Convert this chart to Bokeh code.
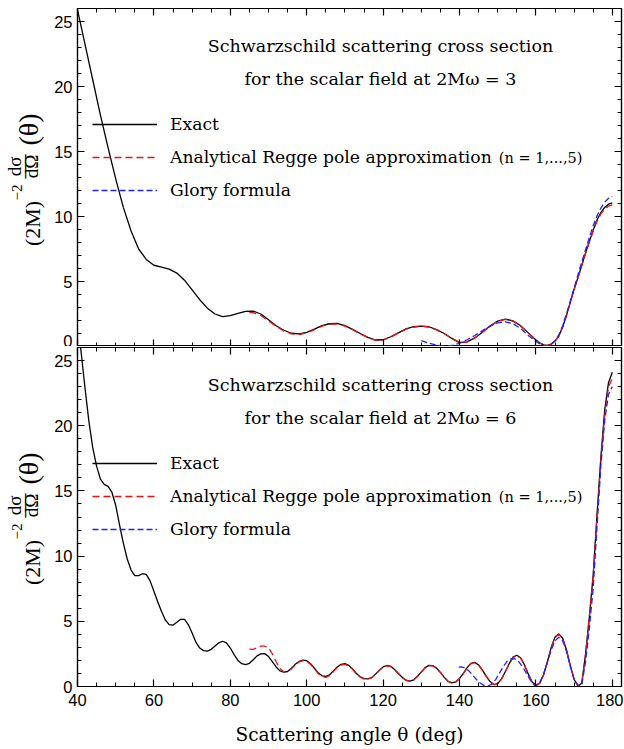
import numpy as np
from bokeh.plotting import figure
from bokeh.models import (Range1d, LinearAxis, Label, Legend, LegendItem,
                          FixedTicker, CustomJSTickFormatter)
from bokeh.layouts import column, row
from bokeh.embed import file_html
from bokeh.resources import INLINE

# ---------------- data ----------------
# Panel 1: 2M omega = 3
theta_exact_3 = [40, 42, 44, 46, 48, 50, 52, 54, 56, 58, 60, 62, 64, 66, 68, 70,
                 72, 74, 76, 78, 80, 82, 84, 86, 88, 90, 92, 94, 96, 98, 100,
                 102, 104, 106, 108, 110, 112, 114, 116, 118, 120, 122, 124, 126,
                 128, 130, 132, 134, 136, 138, 140, 142, 144, 146, 148, 150, 152,
                 154, 156, 158, 160, 161, 162, 163, 164, 165, 166, 167, 168, 169,
                 170, 171, 172, 173, 174, 175, 176, 177, 178, 179, 180]
sigma_exact_3 = [25.9, 23.2, 20.5, 17.8, 15.3, 12.9, 10.7, 8.9, 7.5, 6.7, 6.25, 6.1,
                 5.95, 5.65, 5.1, 4.35, 3.6, 2.95, 2.5, 2.3, 2.38, 2.55, 2.7, 2.72,
                 2.5, 2.05, 1.6, 1.25, 1.02, 0.97, 1.08, 1.33, 1.6, 1.75, 1.77, 1.6,
                 1.32, 1.0, 0.7, 0.5, 0.52, 0.75, 1.05, 1.35, 1.52, 1.57, 1.52, 1.3,
                 1.0, 0.62, 0.3, 0.36, 0.66, 1.1, 1.57, 1.95, 2.1, 1.97, 1.6, 1.05,
                 0.5, 0.28, 0.12, 0.08, 0.18, 0.42, 0.8, 1.5, 2.4, 3.4, 4.4, 5.3,
                 6.25, 7.2, 8.1, 8.95, 9.75, 10.3, 10.7, 10.95, 11.05]

theta_regge_3 = [85, 86, 88, 90, 92, 94, 96, 98, 100, 102, 104, 106, 108, 110, 112,
                 114, 116, 118, 120, 122, 124, 126, 128, 130, 132, 134, 136, 138,
                 140, 142, 144, 146, 148, 150, 152, 154, 156, 158, 160, 161, 162,
                 163, 164, 165, 166, 167, 168, 169, 170, 171, 172, 173, 174, 175,
                 176, 177, 178, 179, 180]
sigma_regge_3 = [2.6, 2.6, 2.38, 1.97, 1.55, 1.2, 0.97, 0.92, 1.04, 1.3, 1.56, 1.72,
                 1.73, 1.57, 1.3, 0.98, 0.68, 0.48, 0.5, 0.73, 1.03, 1.33, 1.5, 1.55,
                 1.5, 1.28, 0.98, 0.62, 0.3, 0.36, 0.66, 1.12, 1.58, 1.95, 2.08,
                 1.95, 1.58, 1.03, 0.5, 0.27, 0.11, 0.07, 0.17, 0.41, 0.78, 1.48,
                 2.38, 3.38, 4.38, 5.28, 6.22, 7.15, 8.05, 8.88, 9.65, 10.2, 10.55,
                 10.8, 10.9]

theta_glory_3 = [130, 132, 134, 136, 138, 140, 142, 144, 146, 148, 150, 152, 154,
                 156, 158, 160, 161, 162, 163, 164, 165, 166, 167, 168, 169, 170,
                 171, 172, 173, 174, 175, 176, 177, 178, 179, 180]
sigma_glory_3 = [0.46, 0.25, 0.1, 0.03, 0.08, 0.25, 0.52, 0.85, 1.22, 1.57, 1.82,
                 1.9, 1.75, 1.38, 0.85, 0.38, 0.2, 0.08, 0.05, 0.18, 0.45, 0.9, 1.6,
                 2.5, 3.5, 4.5, 5.5, 6.5, 7.45, 8.4, 9.3, 10.05, 10.65, 11.1, 11.4,
                 11.55]

# Panel 2: 2M omega = 6
theta_exact_6 = list(range(40, 181))
sigma_exact_6 = [28.1, 25.5, 22.8, 20.3, 18.3, 16.9, 15.9, 15.5, 15.35, 14.9,
                 13.9, 12.4, 11.0, 9.8, 8.95, 8.5, 8.5, 8.65, 8.6, 8.1,
                 7.3, 6.5, 5.75, 5.1, 4.75, 4.7, 4.92, 5.15, 5.15, 4.75,
                 4.1, 3.4, 2.95, 2.75, 2.72, 2.85, 3.1, 3.35, 3.47, 3.35,
                 2.95, 2.45, 2.0, 1.75, 1.68, 1.78, 2.05, 2.35, 2.5, 2.52,
                 2.3, 1.9, 1.5, 1.2, 1.1, 1.15, 1.4, 1.7, 1.92, 2.02,
                 1.98, 1.75, 1.4, 1.05, 0.82, 0.78, 0.9, 1.2, 1.5, 1.7,
                 1.75, 1.62, 1.35, 1.0, 0.75, 0.6, 0.59, 0.68, 0.95, 1.25,
                 1.5, 1.61, 1.55, 1.3, 1.0, 0.7, 0.48, 0.41, 0.5, 0.78,
                 1.12, 1.45, 1.62, 1.6, 1.4, 1.08, 0.7, 0.4, 0.28, 0.35,
                 0.62, 1.0, 1.45, 1.78, 1.85, 1.65, 1.25, 0.78, 0.38, 0.15,
                 0.22, 0.58, 1.15, 1.75, 2.25, 2.4, 2.2, 1.65, 0.95, 0.35,
                 0.1, 0.25, 0.9, 1.9, 3.0, 3.8, 4.04, 3.7, 2.8, 1.6,
                 0.55, 0.05, 0.25, 2.5, 5.4, 8.6, 13.2, 17.6, 21.2, 23.3,
                 24.1]

theta_regge_6 = list(range(85, 181))
sigma_regge_6 = [2.86, 2.84, 2.98, 3.1, 3.1, 2.98, 2.5, 1.9, 1.38, 1.12,
                 1.12, 1.35, 1.65, 1.88, 1.98, 1.92, 1.7, 1.35, 1.0, 0.76,
                 0.7, 0.84, 1.15, 1.45, 1.65, 1.7, 1.58, 1.32, 0.98, 0.72,
                 0.58, 0.57, 0.67, 0.93, 1.23, 1.48, 1.59, 1.53, 1.28, 0.98,
                 0.69, 0.47, 0.4, 0.49, 0.77, 1.1, 1.43, 1.6, 1.58, 1.38,
                 1.06, 0.69, 0.39, 0.27, 0.34, 0.61, 0.99, 1.43, 1.76, 1.83,
                 1.63, 1.24, 0.77, 0.37, 0.14, 0.21, 0.57, 1.13, 1.72, 2.22,
                 2.37, 2.18, 1.63, 0.94, 0.34, 0.09, 0.24, 0.88, 1.87, 2.96,
                 3.76, 4.0, 3.67, 2.78, 1.58, 0.54, 0.05, 0.24, 2.45, 5.3,
                 8.5, 13.0, 17.3, 20.8, 23.0, 23.6]

theta_glory_6 = [139.8, 140.5, 141.5, 142.5, 143.5, 144.5, 145.5, 146.5, 147.4,
                 148.5, 149.5, 150.5, 151.5, 152.5, 153.5, 154.4, 155.5, 156.5,
                 157.5, 158.5, 159.5, 160, 161, 162, 163, 164, 165, 166, 167, 168,
                 169, 170, 171, 171.6, 172, 173, 174, 175, 176, 177, 178, 179, 180]
sigma_glory_6 = [1.48, 1.5, 1.42, 1.18, 0.85, 0.52, 0.25, 0.07, 0.02, 0.2, 0.55,
                 1.05, 1.55, 1.95, 2.12, 2.14, 1.9, 1.5, 1.02, 0.5, 0.12, 0.02, 0.3,
                 0.95, 1.85, 2.8, 3.5, 3.78, 3.5, 2.7, 1.55, 0.55, 0.08, 0.0, 0.12,
                 1.9, 4.5, 7.6, 12.3, 16.9, 20.4, 22.4, 23.0]

x_major = [40, 60, 80, 100, 120, 140, 160, 180]
y_major = [0, 5, 10, 15, 20, 25]
legend_labels = ["Exact", "Analytical Regge pole approximation", "Glory formula"]
omega_values = ["3", "6"]

SERIF = "DejaVu Serif"
MATH = "Liberation Serif"
SANS = "Liberation Sans"
BLANK = CustomJSTickFormatter(code="return ''")
LAB_W = 45     # width of the strip that carries the y-axis titles


def style_axis(ax, labels):
    ax.major_tick_in = 7
    ax.major_tick_out = 0
    ax.minor_tick_in = 4
    ax.minor_tick_out = 0
    ax.axis_line_color = "black"
    ax.axis_line_width = 1.2
    ax.major_tick_line_color = "black"
    ax.minor_tick_line_color = "black"
    ax.major_tick_line_width = 1.2
    ax.minor_tick_line_width = 1
    if labels:
        ax.major_label_text_font = SANS
        ax.major_label_text_font_size = "16.5px"
        ax.major_label_text_color = "black"
    else:
        ax.formatter = BLANK
        ax.major_label_text_font_size = "1px"
        ax.major_label_standoff = 0


def make_panel(th_e, s_e, th_r, s_r, th_g, s_g, omega, bottom):
    xticker = FixedTicker(ticks=x_major, minor_ticks=list(range(40, 185, 5)))
    yticker = FixedTicker(ticks=y_major, minor_ticks=list(range(0, 27)))
    fh = 339 if bottom else 338
    p = figure(frame_width=544, frame_height=fh,
               x_range=Range1d(40, 182.4), y_range=Range1d(0, 26),
               output_backend="svg", toolbar_location=None,
               min_border_left=77 - LAB_W, min_border_right=2,
               min_border_top=1 if bottom else 8, min_border_bottom=0)
    p.xgrid.visible = False
    p.ygrid.visible = False
    p.outline_line_color = "black"
    p.outline_line_width = 1.2
    p.background_fill_color = "white"
    p.border_fill_color = "white"

    p.xaxis.ticker = xticker
    p.yaxis.ticker = yticker
    style_axis(p.xaxis[0], bottom)
    style_axis(p.yaxis[0], True)
    p.yaxis.major_label_standoff = 5
    if bottom:
        p.xaxis.major_label_standoff = 7
        p.xaxis.axis_label = "Scattering angle θ (deg)"
        p.xaxis.axis_label_text_font = SERIF
        p.xaxis.axis_label_text_font_style = "normal"
        p.xaxis.axis_label_text_font_size = "18.5px"
        p.xaxis.axis_label_text_color = "black"
        p.xaxis.axis_label_standoff = 15

    ax_top = LinearAxis(ticker=xticker)
    style_axis(ax_top, False)
    p.add_layout(ax_top, "above")
    ax_right = LinearAxis(ticker=yticker)
    style_axis(ax_right, False)
    p.add_layout(ax_right, "right")

    r_e = p.line(th_e, s_e, line_color="black", line_width=1.3)
    r_r = p.line(th_r, s_r, line_color="#ee1111", line_width=1.3, line_dash="7 4")
    r_g = p.line(th_g, s_g, line_color="#2222ff", line_width=1.3, line_dash="6 3")

    legend = Legend(items=[LegendItem(label=legend_labels[0], renderers=[r_e]),
                           LegendItem(label=legend_labels[1], renderers=[r_r]),
                           LegendItem(label=legend_labels[2], renderers=[r_g])],
                    location=(15, fh - 192), orientation="vertical",
                    glyph_width=65, glyph_height=20, label_height=20,
                    label_standoff=13, spacing=13, padding=0, margin=0,
                    background_fill_alpha=0, border_line_alpha=0,
                    label_text_font=SERIF, label_text_font_size="17.2px",
                    label_text_color="black")
    p.add_layout(legend, "center")

    p.add_layout(Label(x=119.3, y=23.1, text="Schwarzschild scattering cross section",
                       text_align="center", text_baseline="middle",
                       text_font=SERIF, text_font_size="17.5px", text_color="black"))
    p.add_layout(Label(x=119.3, y=20.6, text="for the scalar field at 2Mω = " + omega,
                       text_align="center", text_baseline="middle",
                       text_font=SERIF, text_font_size="17.5px", text_color="black"))
    p.add_layout(Label(x=150.3, y=14.5, text="(n = 1,...,5)",
                       text_align="left", text_baseline="middle",
                       text_font=SERIF, text_font_size="14.5px", text_color="black"))
    return p


top = make_panel(theta_exact_3, sigma_exact_3, theta_regge_3, sigma_regge_3,
                 theta_glory_3, sigma_glory_3, omega_values[0], False)
bot = make_panel(theta_exact_6, sigma_exact_6, theta_regge_6, sigma_regge_6,
                 theta_glory_6, sigma_glory_6, omega_values[1], True)

# strip on the left carrying the two y-axis titles: (2M)^-2 dσ/dΩ (θ)
LAB_H = 700
lab = figure(width=LAB_W, height=LAB_H, x_range=Range1d(0, LAB_W),
             y_range=Range1d(LAB_H, 0), output_backend="svg",
             toolbar_location=None, x_axis_location=None, y_axis_location=None,
             min_border=0)
lab.grid.visible = False
lab.outline_line_color = None
lab.background_fill_color = "white"
lab.border_fill_color = "white"

ylabel_pieces = [("(2M)", 32, 223, "22px", "normal"),
                 ("−2", 16, 192, "15px", "normal"),
                 ("dσ", 14, 166, "19px", "normal"),
                 ("—", 22.5, 166, "24px", "normal"),
                 ("dΩ", 31, 166, "19px", "normal"),
                 ("(θ)", 28, 129, "28px", "normal")]
for offset in (0, 339):
    for txt, px, py, size, style in ylabel_pieces:
        lab.add_layout(Label(x=px, y=py + offset, text=txt, angle=np.pi / 2,
                             text_align="center", text_baseline="middle",
                             text_font=MATH, text_font_size=size,
                             text_font_style=style, text_color="black"))

layout = row(lab, column(top, bot, spacing=0), spacing=0)
open("out.html", "w").write(file_html(layout, INLINE))
